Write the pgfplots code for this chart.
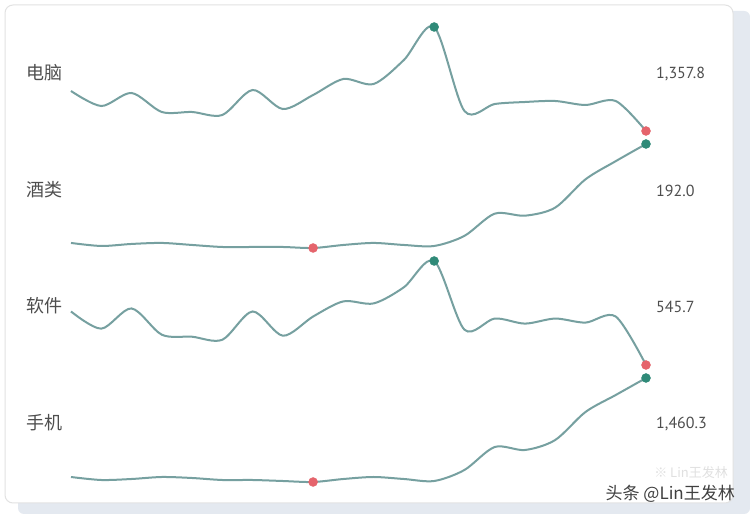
\documentclass[border=0pt]{standalone}
\usepackage{pgfplots}
\pgfplotsset{compat=1.18}
\usepackage{fontspec}
\setmainfont{PT Sans}
\newfontfamily\cjk{Noto Sans CJK SC}

\definecolor{linec}{HTML}{76A0A0}
\definecolor{maxc}{HTML}{2F8A78}
\definecolor{minc}{HTML}{E5646C}
\definecolor{labc}{HTML}{4E4E4E}
\definecolor{shadowc}{HTML}{E4E9F0}
\definecolor{borderc}{HTML}{E2E2E2}

% one row per category, 20 periods each (relative heights)
\pgfplotstableread{
x pc   wine soft phone
0  40  5    53   5
1  25  2    36   2
2  38  4    56   3
3  19  5    30   5
4  19  3    28   4
5  16  1    25   2
6  41  1    53   2
7  22  1    29   1
8  36  0    48   0
9  52  3    63   3
10 47  5    61   5
11 71  3    77   3
12 104 2    103  1
13 20  12   35   12
14 27  34   46   35
15 29  32   41   32
16 30  40   46   42
17 26  68   42   70
18 30  86   48   87
19 0   103  0    104
}\sales

\pgfplotsset{
  spark/.style={
    hide axis, scale only axis, clip=false,
    width=575pt, height=104pt,
    xmin=0, xmax=19, anchor=south west,
  },
}

\begin{document}
\begin{tikzpicture}[x=1pt,y=1pt]
  \fill[white] (0,0) rectangle (750,519);
  \fill[shadowc, rounded corners=6pt] (18,5) rectangle (750,508);
  \filldraw[fill=white, draw=borderc, line width=1pt, rounded corners=8pt] (5,16) rectangle (733,514);

  % 电脑
  \begin{axis}[spark, at={(71pt,388pt)}, ymin=0, ymax=104]
    \addplot[linec, line width=2pt, smooth] table[x=x, y=pc] {\sales};
    \addplot[only marks, mark=*, mark size=4.5pt, maxc] coordinates {(12,104)};
    \addplot[only marks, mark=*, mark size=4.5pt, minc] coordinates {(19,0)};
  \end{axis}
  % 酒类
  \begin{axis}[spark, at={(71pt,271pt)}, ymin=0, ymax=103]
    \addplot[linec, line width=2pt, smooth] table[x=x, y=wine] {\sales};
    \addplot[only marks, mark=*, mark size=4.5pt, maxc] coordinates {(19,103)};
    \addplot[only marks, mark=*, mark size=4.5pt, minc] coordinates {(8,0)};
  \end{axis}
  % 软件
  \begin{axis}[spark, at={(71pt,154pt)}, ymin=0, ymax=103]
    \addplot[linec, line width=2pt, smooth] table[x=x, y=soft] {\sales};
    \addplot[only marks, mark=*, mark size=4.5pt, maxc] coordinates {(12,103)};
    \addplot[only marks, mark=*, mark size=4.5pt, minc] coordinates {(19,0)};
  \end{axis}
  % 手机
  \begin{axis}[spark, at={(71pt,37pt)}, ymin=0, ymax=104]
    \addplot[linec, line width=2pt, smooth] table[x=x, y=phone] {\sales};
    \addplot[only marks, mark=*, mark size=4.5pt, maxc] coordinates {(19,104)};
    \addplot[only marks, mark=*, mark size=4.5pt, minc] coordinates {(8,0)};
  \end{axis}

  \begin{scope}[every node/.style={anchor=west, inner sep=0pt, text=labc}]
    \node[font=\cjk\fontsize{18}{18}\selectfont] at (26,446) {电脑};
    \node[font=\cjk\fontsize{18}{18}\selectfont] at (26,329) {酒类};
    \node[font=\cjk\fontsize{18}{18}\selectfont] at (26,213) {软件};
    \node[font=\cjk\fontsize{18}{18}\selectfont] at (26,96) {手机};
    \node[font=\fontsize{16}{16}\selectfont] at (656,445) {1,357.8};
    \node[font=\fontsize{16}{16}\selectfont] at (656,328) {192.0};
    \node[font=\fontsize{16}{16}\selectfont] at (656,212) {545.7};
    \node[font=\fontsize{16}{16}\selectfont] at (656,95) {1,460.3};
  \end{scope}

  \node[anchor=east, inner sep=0pt, text=black!12, font=\cjk\fontsize{13}{13}\selectfont] at (728,46) {※ Lin王发林};
  \node[anchor=east, inner sep=0pt, text=black!75, font=\cjk\fontsize{17}{17}\selectfont] at (735,25) {头条 @Lin王发林};
\end{tikzpicture}
\end{document}
